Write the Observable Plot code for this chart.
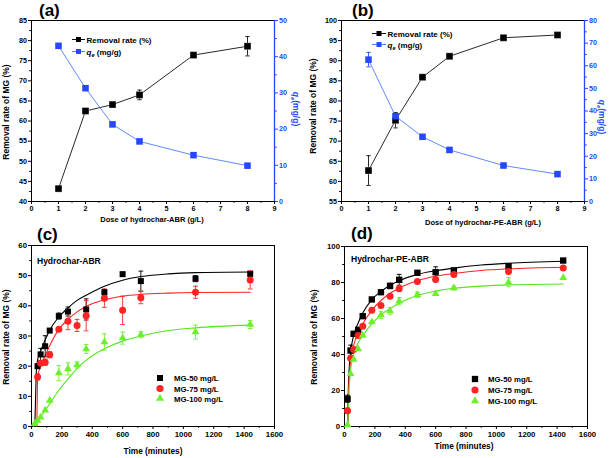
<!DOCTYPE html>
<html>
<head>
<meta charset="utf-8">
<script src="https://cdn.jsdelivr.net/npm/d3@7"></script>
<script src="https://cdn.jsdelivr.net/npm/@observablehq/plot@0.6"></script>
<style>
html,body{margin:0;padding:0;background:#fff;}
#wrap{position:relative;width:614px;height:458px;overflow:hidden;background:#fff;}
#wrap > svg{position:absolute;max-width:none;}
</style>
</head>
<body>
<div id="wrap"></div>
<script>
// ---------------- data ----------------
const doses = [1, 2, 3, 4, 6, 8];
const removalA = [43.2, 62.5, 64.1, 66.5, 76.4, 78.6];
const removalAErr = [0, 0, 0, 1.2, 0, 2.4];
const qeA = [43.0, 31.3, 21.3, 16.6, 12.8, 9.9];
const qeAErr = [0, 0, 0, 0, 0, 0];
const removalB = [62.7, 75.2, 85.9, 91.1, 95.7, 96.4];
const removalBErr = [3.7, 1.9, 0, 0, 0, 0];
const qeB = [62.7, 37.7, 28.6, 22.8, 15.9, 12.1];
const qeBErr = [3.2, 0.8, 0, 0, 0, 0];

// panel (c) measurements
const timesC50 = [40, 60, 90, 120, 180, 240, 360, 480, 600, 720, 1080, 1440];
const c50 = [20.0, 23.9, 26.6, 31.8, 36.6, 38.1, 38.8, 44.5, 50.5, 48.2, 49.0, 50.6];
const c50Err = [0, 2.0, 3.5, 0, 1.0, 1.5, 3.5, 1.0, 0, 3.3, 1.0, 0.8];
const timesC75 = [40, 60, 90, 120, 180, 240, 300, 360, 480, 600, 720, 1080, 1440];
const c75 = [16.4, 21.0, 21.3, 23.8, 32.2, 34.9, 33.5, 36.7, 42.5, 38.5, 42.7, 44.5, 48.6];
const c75Err = [1.0, 0, 1.0, 1.0, 0, 2.8, 2.0, 5.0, 3.0, 4.7, 2.0, 2.0, 3.0];
const timesC100 = [20, 40, 60, 90, 120, 180, 240, 300, 360, 480, 600, 720, 1080, 1440];
const c100 = [0.9, 2.0, 3.1, 5.4, 8.6, 17.7, 19.1, 20.4, 25.7, 28.0, 29.3, 30.4, 31.3, 33.8];
const c100Err = [0, 0, 0, 0, 0, 2.5, 2.0, 1.0, 1.5, 2.7, 2.0, 1.0, 2.3, 1.3];

// panel (c) fitted curves
const fitC50T = [22, 28, 33, 40, 60, 80, 120, 180, 240, 300, 360, 480, 600, 720, 900, 1080, 1440];
const fitC50 = [0, 12, 19.5, 22, 25, 27.5, 32, 36.3, 39.3, 41.8, 43.5, 46.5, 48.5, 49.7, 50.6, 51.0, 51.2];
const fitC75T = [35, 38, 40, 60, 90, 120, 180, 240, 300, 360, 480, 600, 720, 900, 1080, 1440];
const fitC75 = [0, 10, 16.3, 20, 23.5, 26.8, 32.2, 35.5, 38, 39.8, 42, 43.2, 43.8, 44.2, 44.4, 44.5];
const fitC100T = [15, 30, 60, 90, 120, 180, 240, 300, 360, 420, 480, 600, 720, 900, 1080, 1440];
const fitC100 = [0, 1.2, 3.2, 5.3, 7.5, 12, 15.8, 19.2, 22, 24.1, 25.8, 28.3, 30, 31.8, 32.7, 33.6];

// panel (d) measurements
const timesD = [20, 40, 60, 90, 120, 180, 240, 300, 360, 480, 600, 720, 1080, 1440];
const d50 = [15.4, 42.2, 51.5, 53.7, 61.3, 70.6, 74.6, 78.1, 81.5, 85.4, 85.7, 86.7, 89.1, 92.2];
const d50Err = [2.0, 3.0, 0, 0, 0, 0, 0, 1.5, 3.0, 0, 3.0, 1.0, 1.0, 0];
const d75 = [8.7, 37.9, 42.8, 50.6, 55.7, 64.6, 67.2, 72.4, 76.5, 80.6, 81.7, 84.4, 86.1, 88.1];
const d75Err = [1.5, 0, 0, 0, 0, 0, 0, 0, 0, 0, 0, 0, 0, 0];
const d100 = [0.9, 29.3, 37.2, 43.1, 50.6, 58.0, 62.0, 64.1, 69.6, 73.2, 73.7, 76.9, 80.2, 82.6];
const d100Err = [0, 0, 0, 0, 0, 0, 2.0, 2.0, 2.0, 1.5, 0, 1.0, 2.5, 0];

// panel (d) fitted curves
const fitDT = [21, 25, 30, 40, 60, 90, 120, 180, 240, 300, 360, 480, 600, 720, 900, 1080, 1440];
const fitD50 = [0, 20, 31, 41, 50.5, 57.5, 63, 70.5, 75, 78.5, 81, 84.5, 86.5, 88, 89.7, 90.7, 91.8];
const fitD75 = [0, 15, 26, 36, 45, 52, 57, 64.5, 70, 74, 77, 81, 83.5, 85, 86.7, 87.6, 88.5];
const fitD100 = [0, 10, 20, 31, 40, 46.5, 50.5, 57, 62, 65.5, 68.5, 72.8, 75.2, 76.8, 78, 78.7, 79.2];

// ticks
const doseTicks = [0, 1, 2, 3, 4, 5, 6, 7, 8, 9];
const doseMinor = [0.5, 1.5, 2.5, 3.5, 4.5, 5.5, 6.5, 7.5, 8.5];
const yTicksA = [40, 45, 50, 55, 60, 65, 70, 75, 80, 85];
const yMinorA = [42.5, 47.5, 52.5, 57.5, 62.5, 67.5, 72.5, 77.5, 82.5];
const qTicksA = [0, 10, 20, 30, 40, 50];
const qMinorA = [5, 15, 25, 35, 45];
const yTicksB = [55, 60, 65, 70, 75, 80, 85, 90, 95, 100];
const yMinorB = [57.5, 62.5, 67.5, 72.5, 77.5, 82.5, 87.5, 92.5, 97.5];
const qTicksB = [0, 10, 20, 30, 40, 50, 60, 70, 80];
const qMinorB = [5, 15, 25, 35, 45, 55, 65, 75];
const timeTicks = [0, 200, 400, 600, 800, 1000, 1200, 1400, 1600];
const timeMinor = [100, 300, 500, 700, 900, 1100, 1300, 1500];
const yTicksC = [0, 10, 20, 30, 40, 50, 60];
const yMinorC = [5, 15, 25, 35, 45, 55];
const yTicksD = [0, 20, 40, 60, 80, 100];
const yMinorD = [10, 30, 50, 70, 90];

// ---------------- helpers ----------------
const FONT = "'Liberation Sans', Arial, Helvetica, sans-serif";
const BLUE = "#2447ff";
const BLUE_LINE = "#4f7dff";
const RED = "#ff2323";
const GREEN = "#6cf02c";
const GREEN_LINE = "#55e61c";
const plain = d => String(d);

const capSym = {draw(ctx, size) { const w = Math.sqrt(size / Math.PI); ctx.moveTo(-w, 0); ctx.lineTo(w, 0); }};

const zipXY = (xs, ys, errs) => xs.map((x, i) => ({x, y: ys[i], e: errs ? errs[i] : 0}));

function errMarks(data, color, cap = 2.2) {
  const d = data.filter(p => p.e > 0);
  const caps = d.flatMap(p => [{x: p.x, y: p.y - p.e}, {x: p.x, y: p.y + p.e}]);
  return [
    Plot.ruleX(d, {x: "x", y1: p => p.y - p.e, y2: p => p.y + p.e, stroke: color, strokeWidth: 0.9}),
    Plot.dot(caps, {x: "x", y: "y", symbol: capSym, r: cap, fill: "none", stroke: color, strokeWidth: 0.9})
  ];
}

function axisMarks({xTicks, xMinor, yTicks, yMinor, yAnchor = "left", color = "black", xAxis = true}) {
  const m = [];
  if (xAxis) {
    m.push(Plot.axisX({ticks: xTicks, tickSize: 3, tickPadding: 1.5, tickFormat: plain, label: null, color: "black"}));
    m.push(Plot.axisX({ticks: xMinor, tickSize: 1.8, tickFormat: () => "", label: null, color: "black"}));
  }
  m.push(Plot.axisY({anchor: yAnchor, ticks: yTicks, tickSize: 3, tickPadding: 1.5, tickFormat: plain, label: null, color}));
  m.push(Plot.axisY({anchor: yAnchor, ticks: yMinor, tickSize: 1.8, tickFormat: () => "", label: null, color}));
  return m;
}

const styleAB = {fontFamily: FONT, fontSize: "7.2px", fontWeight: "bold", background: "transparent", overflow: "visible"};
const styleCD = {...styleAB, fontSize: "7.8px"};
const wrap = document.getElementById("wrap");

function place(svg, left, top) {
  svg.style.left = left + "px";
  svg.style.top = top + "px";
  wrap.appendChild(svg);
  return d3.select(svg);
}

function txt(sel, {x, y, text, size = 8, rotate = 0, anchor = "start", fill = "black", weight = "bold"}) {
  return sel.append("text")
    .attr("transform", `translate(${x},${y}) rotate(${rotate})`)
    .attr("text-anchor", anchor)
    .attr("font-family", FONT).attr("font-size", size).attr("font-weight", weight)
    .attr("fill", fill).text(text);
}

function qeText(sel, {x, y, size = 8, rotate = 0, anchor = "start", fill = "black", suffix = " (mg/g)"}) {
  const t = sel.append("text")
    .attr("transform", `translate(${x},${y}) rotate(${rotate})`)
    .attr("text-anchor", anchor)
    .attr("font-family", FONT).attr("font-size", size).attr("font-weight", "bold").attr("fill", fill);
  t.append("tspan").attr("font-style", "italic").text("q");
  t.append("tspan").attr("font-style", "italic").attr("font-size", size * 0.7).attr("dy", size * 0.25).text("e");
  t.append("tspan").attr("dy", -size * 0.25).text(suffix);
  return t;
}

function legendLineSym(sel, {x1, x2, y, color, lineColor, size}) {
  sel.append("line").attr("x1", x1).attr("x2", x2).attr("y1", y).attr("y2", y).attr("stroke", lineColor).attr("stroke-width", 1);
  sel.append("rect").attr("x", (x1 + x2) / 2 - size / 2).attr("y", y - size / 2).attr("width", size).attr("height", size).attr("fill", color);
}

function legendSym(sel, {x, y, type, color, size}) {
  sel.append("path").attr("transform", `translate(${x},${y})`).attr("d", d3.symbol(type, size)()).attr("fill", color);
}

// ---------------- dose panels (a), (b) ----------------
function dosePanel({left, top, margins, yDomain, yTicks, yMinor, qDomain, qTicks, qMinor, removal, removalErr, qe, qeErr}) {
  const dims = {width: 307, height: 229, ...margins};
  const rem = zipXY(doses, removal, removalErr);
  const q = zipXY(doses, qe, qeErr);
  const main = Plot.plot({
    ...dims, style: styleAB,
    x: {domain: [0, 9]}, y: {domain: yDomain},
    marks: [
      Plot.frame({stroke: "black", strokeWidth: 1}),
      ...axisMarks({xTicks: doseTicks, xMinor: doseMinor, yTicks, yMinor}),
      Plot.line(rem, {x: "x", y: "y", stroke: "#111", strokeWidth: 0.9}),
      ...errMarks(rem, "#111"),
      Plot.dot(rem, {x: "x", y: "y", symbol: "square", r: 3.9, fill: "#000", stroke: "#fff", strokeWidth: 0.3})
    ]
  });
  const sec = Plot.plot({
    ...dims, style: styleAB,
    x: {domain: [0, 9], axis: null}, y: {domain: qDomain},
    marks: [
      Plot.ruleX([9], {stroke: BLUE, strokeWidth: 1.3}),
      ...axisMarks({yTicks: qTicks, yMinor: qMinor, yAnchor: "right", color: BLUE, xAxis: false}),
      Plot.line(q, {x: "x", y: "y", stroke: BLUE_LINE, strokeWidth: 0.9}),
      ...errMarks(q, BLUE),
      Plot.dot(q, {x: "x", y: "y", symbol: "square", r: 3.7, fill: BLUE})
    ]
  });
  const s1 = place(main, left, top);
  const s2 = place(sec, left, top);
  return [s1, s2];
}

const [aMain, aSec] = dosePanel({
  left: 0, top: 0, margins: {marginLeft: 31, marginRight: 33, marginTop: 20, marginBottom: 28},
  yDomain: [40, 85], yTicks: yTicksA, yMinor: yMinorA,
  qDomain: [0, 50], qTicks: qTicksA, qMinor: qMinorA,
  removal: removalA, removalErr: removalAErr, qe: qeA, qeErr: qeAErr
});
txt(aMain, {x: 39, y: 15.5, text: "(a)", size: 17});
txt(aMain, {x: 8.5, y: 112, text: "Removal rate of MG (%)", size: 8.5, rotate: -90, anchor: "middle"});
txt(aMain, {x: 152, y: 222, text: "Dose of hydrochar-ABR (g/L)", size: 7.5, anchor: "middle"});
qeText(aSec, {x: 293, y: 109, size: 8.5, rotate: 90, anchor: "middle", fill: BLUE, suffix: "(mg/g)"});
legendLineSym(aMain, {x1: 72, x2: 85, y: 39.5, color: "#000", lineColor: "#111", size: 5});
txt(aMain, {x: 86.5, y: 42.5, text: "Removal rate (%)", size: 8});
legendLineSym(aMain, {x1: 72, x2: 85, y: 51.5, color: BLUE, lineColor: BLUE_LINE, size: 5});
qeText(aMain, {x: 86.5, y: 54.5, size: 8});

const [bMain, bSec] = dosePanel({
  left: 307, top: 0, margins: {marginLeft: 34, marginRight: 30, marginTop: 20, marginBottom: 28},
  yDomain: [55, 100], yTicks: yTicksB, yMinor: yMinorB,
  qDomain: [0, 80], qTicks: qTicksB, qMinor: qMinorB,
  removal: removalB, removalErr: removalBErr, qe: qeB, qeErr: qeBErr
});
txt(bMain, {x: 45, y: 15.5, text: "(b)", size: 17});
txt(bMain, {x: 8.5, y: 106, text: "Removal rate of MG (%)", size: 8.5, rotate: -90, anchor: "middle"});
txt(bMain, {x: 176, y: 225, text: "Dose of hydrochar-PE-ABR (g/L)", size: 7.5, anchor: "middle"});
qeText(bSec, {x: 292, y: 117, size: 8.5, rotate: 90, anchor: "middle", fill: BLUE, suffix: "(mg/g)"});
legendLineSym(bMain, {x1: 65, x2: 79, y: 33.5, color: "#000", lineColor: "#111", size: 5});
txt(bMain, {x: 80.5, y: 36.5, text: "Removal rate (%)", size: 8});
legendLineSym(bMain, {x1: 65, x2: 79, y: 44.5, color: BLUE, lineColor: BLUE_LINE, size: 5});
qeText(bMain, {x: 80.5, y: 47.5, size: 8});

// ---------------- kinetics panels (c), (d) ----------------
function kineticsPanel({left, top, margins, yDomain, yTicks, yMinor, series, fits}) {
  const marks = [
    Plot.frame({stroke: "black", strokeWidth: 1}),
    ...axisMarks({xTicks: timeTicks, xMinor: timeMinor, yTicks, yMinor})
  ];
  for (const f of fits) marks.push(Plot.line(f.data, {x: "x", y: "y", stroke: f.color, strokeWidth: 1.1, curve: "monotone-x"}));
  for (const s of series) marks.push(...errMarks(s.data, s.color, 2.4));
  for (const s of series) marks.push(Plot.dot(s.data, {x: "x", y: "y", symbol: s.symbol, r: s.r, fill: s.color}));
  const p = Plot.plot({
    width: 307, height: 233, ...margins, style: styleCD,
    x: {domain: [0, 1600]}, y: {domain: yDomain},
    marks
  });
  return place(p, left, top);
}

const cSvg = kineticsPanel({
  left: 0, top: 225, margins: {marginLeft: 31, marginRight: 33, marginTop: 20, marginBottom: 32},
  yDomain: [0, 60], yTicks: yTicksC, yMinor: yMinorC,
  series: [
    {data: zipXY(timesC50, c50, c50Err), color: "#000", symbol: "square", r: 3.4},
    {data: zipXY(timesC75, c75, c75Err), color: RED, symbol: "circle", r: 3.5},
    {data: zipXY(timesC100, c100, c100Err), color: GREEN, symbol: "triangle", r: 2.9}
  ],
  fits: [
    {data: zipXY(fitC50T, fitC50), color: "#000"},
    {data: zipXY(fitC75T, fitC75), color: RED},
    {data: zipXY(fitC100T, fitC100), color: GREEN_LINE}
  ]
});
txt(cSvg, {x: 37, y: 15, text: "(c)", size: 17});
txt(cSvg, {x: 8.5, y: 112, text: "Removal rate of MG (%)", size: 8.5, rotate: -90, anchor: "middle"});
txt(cSvg, {x: 153, y: 229, text: "Time (minutes)", size: 8.3, anchor: "middle"});
txt(cSvg, {x: 37, y: 39, text: "Hydrochar-ABR", size: 8.5});
legendSym(cSvg, {x: 160, y: 153, type: d3.symbolSquare, color: "#000", size: 36});
txt(cSvg, {x: 174, y: 156, text: "MG-50 mg/L", size: 7.8});
legendSym(cSvg, {x: 160, y: 163.5, type: d3.symbolCircle, color: RED, size: 40});
txt(cSvg, {x: 174, y: 166.5, text: "MG-75 mg/L", size: 7.8});
legendSym(cSvg, {x: 160, y: 173.5, type: d3.symbolTriangle, color: GREEN, size: 28});
txt(cSvg, {x: 174, y: 176.5, text: "MG-100 mg/L", size: 7.8});

const dSvg = kineticsPanel({
  left: 307, top: 225, margins: {marginLeft: 37, marginRight: 27, marginTop: 21, marginBottom: 32},
  yDomain: [0, 100], yTicks: yTicksD, yMinor: yMinorD,
  series: [
    {data: zipXY(timesD, d50, d50Err), color: "#000", symbol: "square", r: 3.6},
    {data: zipXY(timesD, d75, d75Err), color: RED, symbol: "circle", r: 3.5},
    {data: zipXY(timesD, d100, d100Err), color: GREEN, symbol: "triangle", r: 2.9}
  ],
  fits: [
    {data: zipXY(fitDT, fitD50), color: "#000"},
    {data: zipXY(fitDT, fitD75), color: RED},
    {data: zipXY(fitDT, fitD100), color: GREEN_LINE}
  ]
});
txt(dSvg, {x: 44, y: 14, text: "(d)", size: 17});
txt(dSvg, {x: 10, y: 112, text: "Removal rate of MG (%)", size: 8.5, rotate: -90, anchor: "middle"});
txt(dSvg, {x: 157, y: 224, text: "Time (minutes)", size: 8.3, anchor: "middle"});
txt(dSvg, {x: 44, y: 37, text: "Hydrochar-PE-ABR", size: 8.5});
legendSym(dSvg, {x: 168, y: 154, type: d3.symbolSquare, color: "#000", size: 40});
txt(dSvg, {x: 181, y: 157, text: "MG-50 mg/L", size: 7.8});
legendSym(dSvg, {x: 168, y: 165, type: d3.symbolCircle, color: RED, size: 40});
txt(dSvg, {x: 181, y: 168, text: "MG-75 mg/L", size: 7.8});
legendSym(dSvg, {x: 168, y: 176, type: d3.symbolTriangle, color: GREEN, size: 28});
txt(dSvg, {x: 181, y: 179, text: "MG-100 mg/L", size: 7.8});
</script>
</body>
</html>
